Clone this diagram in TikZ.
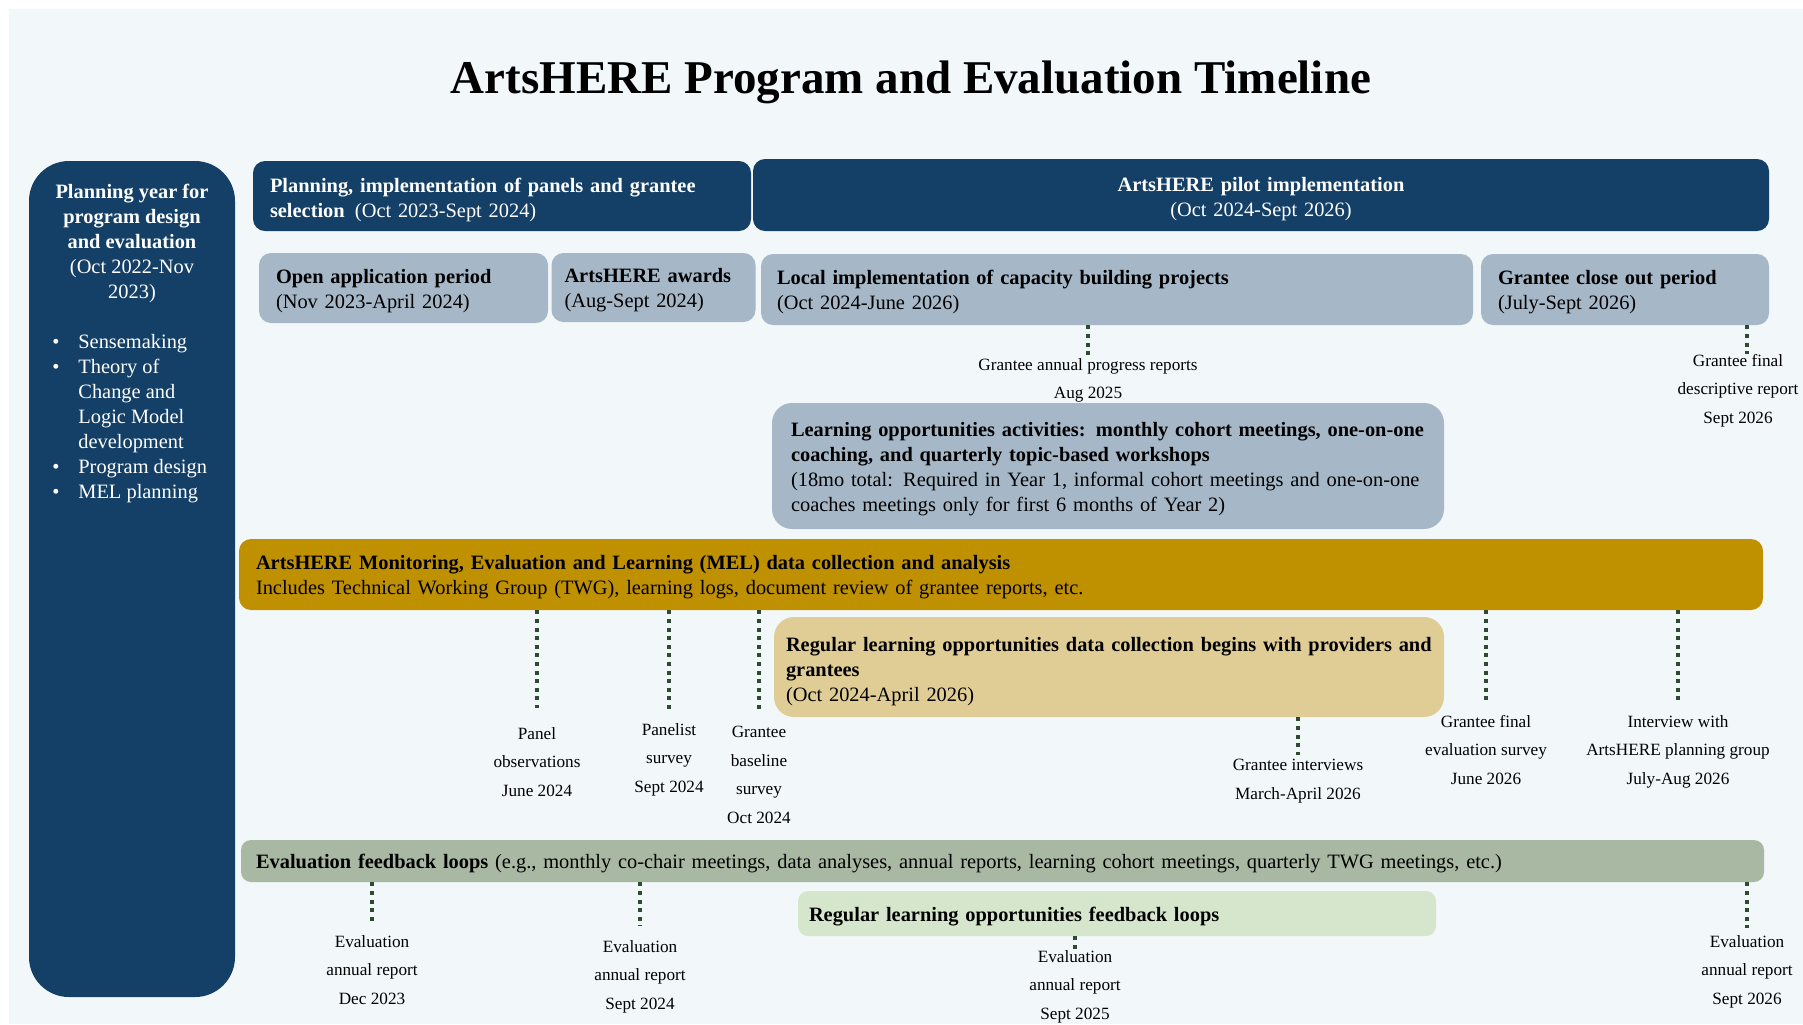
\documentclass[tikz,border=0pt]{standalone}
\usepackage{fontspec}
\setmainfont{Liberation Serif}
\usetikzlibrary{positioning}
\definecolor{navy}{HTML}{143F66}
\definecolor{slate}{HTML}{A6B8C8}
\definecolor{gold}{HTML}{BF9000}
\definecolor{tan}{HTML}{E0CD96}
\definecolor{sage}{HTML}{A9B8A3}
\definecolor{mint}{HTML}{D6E6CC}
\definecolor{paper}{HTML}{F2F7FA}
\definecolor{dotgreen}{HTML}{2E4A30}
\newcommand{\boxfont}{\fontsize{10.2}{12.5}\selectfont}
\newcommand{\lblfont}{\fontsize{8.6}{14.2}\selectfont}
\newcommand{\boxstrut}[1][10pt]{\rule{0pt}{#1}}
\tikzset{
  box/.style={rounded corners=6pt, align=left, inner ysep=0pt, font=\boxfont},
  darkbox/.style={box, fill=navy, text=white},
  greybox/.style={box, fill=slate},
  lbl/.style={align=center, inner sep=0pt, font=\lblfont, anchor=north},
  dotline/.style={draw=dotgreen, line width=2pt, dash pattern=on 2pt off 2.3pt},
}

\begin{document}
\begin{tikzpicture}[x=0.5pt,y=-0.5pt]
  % Page and background
  \useasboundingbox[fill=white] (0,0) rectangle (1803,1024);
  \fill[paper] (9,9) rectangle (1803,1024);
  \node[font=\fontsize{23.5}{28}\selectfont\bfseries] (title) at (911,82) {ArtsHERE Program and Evaluation Timeline};

  % Planning year column
  \node[fill=navy, rounded corners=20pt, inner sep=0pt, minimum width=103pt, minimum height=418pt] (plan) at (132,579) {};
  \node[align=center, inner sep=0pt, anchor=north, text=white, font=\boxfont] (planhead) at (132,184)
    {\textbf{Planning year for}\\\textbf{program design}\\\textbf{and evaluation}\\(Oct 2022-Nov\\2023)};
  \node[align=left, inner sep=0pt, anchor=north west, text=white, font=\boxfont] (planlist) at (52,334)
    {\makebox[13pt][l]{\textbullet}Sensemaking\\
     \makebox[13pt][l]{\textbullet}Theory of\\
     \hspace*{13pt}Change and\\
     \hspace*{13pt}Logic Model\\
     \hspace*{13pt}development\\
     \makebox[13pt][l]{\textbullet}Program design\\
     \makebox[13pt][l]{\textbullet}MEL planning};

  % Program phases
  \node[darkbox, text width=232pt, inner xsep=8.5pt, minimum height=35pt] (selbar) at (502,196)
    {\boxstrut[10.7pt]\textbf{Planning, implementation of panels and grantee}\\\textbf{selection}\enspace(Oct 2023-Sept 2024)};
  \node[darkbox, align=center, text width=490pt, inner xsep=9pt, minimum height=36pt] (pilotbar) at (1261,195)
    {\boxstrut[10.7pt]\textbf{ArtsHERE pilot implementation}\\(Oct 2024-Sept 2026)};

  \node[greybox, text width=127.5pt, inner xsep=8.5pt, minimum height=35pt] (openapp) at (403.5,288)
    {\boxstrut\textbf{Open application period}\\(Nov 2023-April 2024)};
  \node[greybox, text width=89pt, inner xsep=6.5pt, minimum height=34.5pt] (awards) at (653.5,287.5)
    {\boxstrut\textbf{ArtsHERE~awards}\\(Aug-Sept 2024)};
  \node[greybox, text width=340pt, inner xsep=8pt, minimum height=35.5pt] (localimpl) at (1117,289.5)
    {\boxstrut\textbf{Local implementation of capacity building projects}\\(Oct 2024-June 2026)};
  \node[greybox, text width=127pt, inner xsep=8.5pt, minimum height=35.5pt] (closeout) at (1625,289.5)
    {\boxstrut\textbf{Grantee close out period}\\(July-Sept 2026)};

  \node[greybox, rounded corners=10pt, text width=317pt, inner xsep=9.5pt, minimum height=63pt] (learnopp) at (1108,466)
    {\boxstrut\textbf{Learning opportunities activities: monthly cohort meetings, one-on-one}\\
     \textbf{coaching, and quarterly topic-based workshops}\\
     (18mo total: Required in Year 1, informal cohort meetings and one-on-one\\
     coaches meetings only for first 6 months of Year 2)};

  % MEL data collection
  \node[box, fill=gold, text width=745pt, inner xsep=8.5pt, minimum height=35.5pt] (mel) at (1001,574.5)
    {\boxstrut\textbf{ArtsHERE Monitoring, Evaluation and Learning (MEL) data collection and analysis}\\
     Includes Technical Working Group (TWG), learning logs, document review of grantee reports, etc.};
  \node[box, fill=tan, rounded corners=10pt, text width=323pt, inner xsep=6pt, minimum height=50pt] (regdata) at (1109,667)
    {\boxstrut[11.8pt]\textbf{Regular learning opportunities data collection begins with providers and}\\
     \textbf{grantees}\\(Oct 2024-April 2026)};

  % Feedback loops
  \node[box, fill=sage, rounded corners=5pt, text width=746.5pt, inner xsep=7.5pt, minimum height=21pt] (feedback) at (1002.5,861)
    {\boxstrut\textbf{Evaluation feedback loops} (e.g., monthly co-chair meetings, data analyses, annual reports, learning cohort meetings, quarterly TWG meetings, etc.)};
  \node[box, fill=mint, rounded corners=5pt, text width=308pt, inner xsep=5.5pt, minimum height=22.5pt] (regloop) at (1117,913.5)
    {\boxstrut\textbf{Regular learning opportunities feedback loops}};

  % Milestones
  \node[lbl] (progress) at (1088,358) {Grantee annual progress reports\\Aug 2025};
  \node[lbl] (finaldesc) at (1738,354) {Grantee final\\descriptive report\\Sept 2026};
  \node[lbl] (pobs) at (537,727) {Panel\\observations\\June 2024};
  \node[lbl] (plsurvey) at (669,723) {Panelist\\survey\\Sept 2024};
  \node[lbl] (baseline) at (759,726) {Grantee\\baseline\\survey\\Oct 2024};
  \node[lbl] (interviews) at (1298,759) {Grantee interviews\\March-April 2026};
  \node[lbl] (finaleval) at (1486,715) {Grantee final\\evaluation survey\\June 2026};
  \node[lbl] (plangroup) at (1678,715) {Interview with\\ArtsHERE planning group\\July-Aug 2026};
  \node[lbl] (evaldec) at (372,935) {Evaluation\\annual report\\Dec 2023};
  \node[lbl] (evalsep24) at (640,940) {Evaluation\\annual report\\Sept 2024};
  \node[lbl] (evalsep25) at (1075,950) {Evaluation\\annual report\\Sept 2025};
  \node[lbl] (evalsep26) at (1747,935) {Evaluation\\annual report\\Sept 2026};

  \draw[dotline] (localimpl.south -| progress.north) -- (progress.north);
  \draw[dotline] ([xshift=4.5pt]closeout.south -| finaldesc.north) -- ([xshift=4.5pt]finaldesc.north);
  \draw[dotline, shorten >=9.5pt] (mel.south -| pobs.north) -- (pobs.north);
  \draw[dotline, shorten >=6.5pt] (mel.south -| plsurvey.north) -- (plsurvey.north);
  \draw[dotline, shorten >=8pt] (mel.south -| baseline.north) -- (baseline.north);
  \draw[dotline, shorten >=2pt] (regdata.south -| interviews.north) -- (interviews.north);
  \draw[dotline, shorten >=6.5pt] (mel.south -| finaleval.north) -- (finaleval.north);
  \draw[dotline, shorten >=6.5pt] (mel.south -| plangroup.north) -- (plangroup.north);
  \draw[dotline, shorten >=6.5pt] (feedback.south -| evaldec.north) -- (evaldec.north);
  \draw[dotline, shorten >=7pt] (feedback.south -| evalsep24.north) -- (evalsep24.north);
  \draw[dotline] (regloop.south -| evalsep25.north) -- (evalsep25.north);
  \draw[dotline, shorten >=3.5pt] (feedback.south -| evalsep26.north) -- (evalsep26.north);
\end{tikzpicture}
\end{document}
